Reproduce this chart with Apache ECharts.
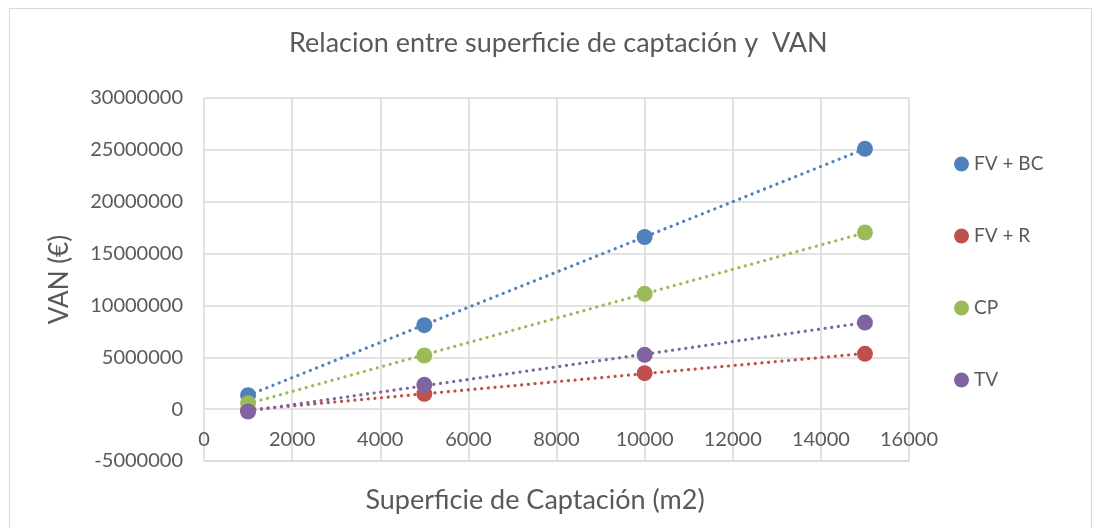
<!DOCTYPE html>
<html>
<head>
<meta charset="utf-8">
<script src="https://cdn.jsdelivr.net/npm/echarts@6/dist/echarts.min.js"></script>
<style>
  html, body { margin: 0; padding: 0; background: #fff; }
  #frame {
    position: absolute; left: 9px; top: 8px; width: 1083px; height: 530px;
    border: 1px solid #d9d9d9; box-sizing: border-box;
  }
  #chart { position: absolute; left: 0; top: 0; width: 1094px; height: 528px; }
</style>
</head>
<body>
<div id="frame"></div>
<div id="chart"></div>
<script>
  // superficie de captacion (m2)
  const superficie = [1000, 5000, 10000, 15000];
  const seriesNames = ["FV + BC", "FV + R", "CP", "TV"];
  const colors = ["#4F81BD", "#C0504D", "#9BBB59", "#8064A2"];
  // VAN (€) por serie
  const vanFVBC = [1350000, 8100000, 16600000, 25100000];
  const vanFVR = [-100000, 1480000, 3470000, 5330000];
  const vanCP = [580000, 5170000, 11120000, 17030000];
  const vanTV = [-230000, 2340000, 5240000, 8350000];
  const allValues = [vanFVBC, vanFVR, vanCP, vanTV];

  // recta de tendencia (minimos cuadrados) entre el primer y el ultimo punto
  const trend = (xs, ys) => {
    const n = xs.length;
    const mx = xs.reduce((a, b) => a + b, 0) / n;
    const my = ys.reduce((a, b) => a + b, 0) / n;
    let sxy = 0, sxx = 0;
    xs.forEach((x, i) => { sxy += (x - mx) * (ys[i] - my); sxx += (x - mx) * (x - mx); });
    const m = sxy / sxx, b = my - m * mx;
    const x0 = xs[0], x1 = xs[n - 1];
    return [[x0, m * x0 + b], [x1, m * x1 + b]];
  };

  const font = "Lato, 'Open Sans', sans-serif";
  const gray = "#595959";
  const series = [];

  seriesNames.forEach((name, i) => {
    series.push({
      name: name + " tendencia",
      type: "line",
      data: trend(superficie, allValues[i]),
      symbol: "none",
      silent: true,
      z: 1,
      lineStyle: { color: colors[i], width: 3.2, type: [0.1, 6.6], cap: "round" },
    });
  });
  seriesNames.forEach((name, i) => {
    series.push({
      name: name,
      type: "scatter",
      data: superficie.map((x, k) => [x, allValues[i][k]]),
      symbol: "circle",
      symbolSize: 16,
      z: 3,
      itemStyle: { color: colors[i], opacity: 1 },
    });
  });

  let myChart = echarts.init(document.getElementById("chart"));
  myChart.setOption({
    animation: false,
    title: {
      text: "Relacion entre superficie de captación y  VAN",
      left: 284,
      top: 25,
      textStyle: { fontFamily: font, fontSize: 27, fontWeight: "normal", color: gray },
    },
    legend: {
      data: seriesNames,
      orient: "vertical",
      left: 949,
      top: 149,
      itemGap: 52,
      itemWidth: 15,
      itemHeight: 15,
      icon: "circle",
      textStyle: { fontFamily: font, fontSize: 19, lineHeight: 20, color: gray },
    },
    grid: { left: 204, right: 185, top: 98, bottom: 67, outerBoundsMode: "none" },
    xAxis: {
      type: "value",
      min: 0,
      max: 16000,
      interval: 2000,
      name: "Superficie de Captación (m2)",
      nameLocation: "middle",
      nameGap: 26,
      nameTextStyle: { fontFamily: font, fontSize: 27, color: gray, padding: [0, 43, 0, 0] },
      axisLine: { onZero: false, lineStyle: { color: "#d9d9d9", width: 1.5 } },
      axisTick: { show: false },
      axisLabel: {
        margin: -31,
        fontFamily: font,
        fontSize: 20,
        color: gray,
        formatter: (v) => String(v),
      },
      splitLine: { lineStyle: { color: "#d9d9d9", width: 1.5 } },
    },
    yAxis: {
      type: "value",
      min: -5000000,
      max: 30000000,
      interval: 5000000,
      name: "VAN (€)",
      nameLocation: "middle",
      nameGap: 131,
      nameTextStyle: { fontFamily: font, fontSize: 26, color: gray },
      axisLine: { show: false },
      axisTick: { show: false },
      axisLabel: {
        margin: 21,
        fontFamily: font,
        fontSize: 20,
        color: gray,
        formatter: (v) => String(v),
      },
      splitLine: { lineStyle: { color: "#d9d9d9", width: 1.5 } },
    },
    series: series,
  });
</script>
</body>
</html>
